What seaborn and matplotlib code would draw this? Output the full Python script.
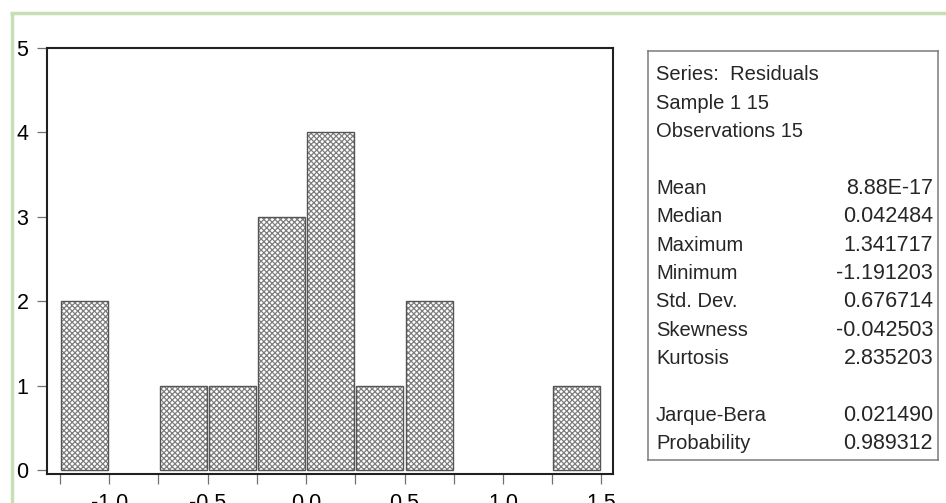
import numpy as np
import pandas as pd
import matplotlib
matplotlib.use("Agg")
import matplotlib.pyplot as plt
import seaborn as sns

# histogram of residuals (bin width 0.25)
bin_edges = [-1.25, -1.0, -0.75, -0.5, -0.25, 0.0, 0.25, 0.5, 0.75, 1.0, 1.25, 1.5]
bin_counts = [2, 0, 1, 1, 3, 4, 1, 2, 0, 0, 1]

x_ticks_major = [-1.0, -0.5, 0.0, 0.5, 1.0, 1.5]
x_tick_labels = ["-1.0", "-0.5", "0.0", "0.5", "1.0", "1.5"]
y_ticks = [0, 1, 2, 3, 4, 5]

stat_labels = ["Mean", "Median", "Maximum", "Minimum", "Std. Dev.",
               "Skewness", "Kurtosis", None, "Jarque-Bera", "Probability"]
stat_values = ["8.88E-17", "0.042484", "1.341717", "-1.191203", "0.676714",
               "-0.042503", "2.835203", None, "0.021490", "0.989312"]
header_lines = ["Series:  Residuals", "Sample 1 15", "Observations 15"]

sns.set_style("white")
plt.rcParams["font.family"] = ["Liberation Sans", "DejaVu Sans"]
plt.rcParams["hatch.linewidth"] = 0.9

W, H = 946, 503
fig = plt.figure(figsize=(W / 100, H / 100), dpi=100)
fig.patch.set_facecolor("white")


def px_rect(l, t, r, b):
    return [l / W, 1 - b / H, (r - l) / W, (b - t) / H]


ax = fig.add_axes(px_rect(46.5, 48, 612.5, 474))

centers = [(a + b) / 2 for a, b in zip(bin_edges[:-1], bin_edges[1:])]
df = pd.DataFrame({"x": centers, "n": bin_counts})

# hatched fill
sns.histplot(data=df, x="x", weights="n", bins=bin_edges, shrink=0.955,
             ax=ax, facecolor="white", edgecolor="#7d7d7d", linewidth=0,
             hatch="xxxxxx", alpha=1)
# outline
sns.histplot(data=df, x="x", weights="n", bins=bin_edges, shrink=0.955,
             ax=ax, fill=False, color="#555555", linewidth=1.0)
for p in ax.patches:
    if p.get_height() == 0:
        p.set_visible(False)

ax.set_xlim(-1.3185, 1.556)
ax.set_ylim(-0.047, 5)
ax.set_xticks(x_ticks_major)
ax.set_xticklabels(x_tick_labels)
ax.set_xticks(bin_edges, minor=True)
ax.set_yticks(y_ticks)
ax.set_xlabel("")
ax.set_ylabel("")
ax.tick_params(axis="both", which="both", direction="out", length=7,
               width=0.9, color="#707070", labelsize=15.5, labelcolor="black",
               left=True, bottom=True)
ax.tick_params(axis="y", pad=6)
ax.tick_params(axis="x", pad=7)
for s in ax.spines.values():
    s.set_color("#202020")
    s.set_linewidth(1.5)
ax.grid(False)

# stats box as its own axes
box_l, box_t, box_r, box_b = 648, 50.5, 937.5, 460
bx = fig.add_axes(px_rect(box_l, box_t, box_r, box_b))
bx.set_xticks([])
bx.set_yticks([])
bx.set_xlim(box_l, box_r)
bx.set_ylim(box_b, box_t)
for s in bx.spines.values():
    s.set_color("#7a7a7a")
    s.set_linewidth(1.1)

lines_left = header_lines + [None] + stat_labels
lines_right = [None] * (len(header_lines) + 1) + stat_values
for i, (lab, val) in enumerate(zip(lines_left, lines_right)):
    yb = 80.2 + 28.4 * i
    if lab:
        bx.text(656, yb, lab, fontsize=14.5, va="baseline", ha="left")
    if val:
        bx.text(933, yb, val, fontsize=15.5, va="baseline", ha="right")

# light green frame (left and top edges)
green = "#c5e0b4"
fig.add_artist(plt.Line2D([11.7 / W, 11.7 / W], [0, 1 - 13.3 / H],
                          transform=fig.transFigure, color=green, linewidth=2.5,
                          solid_capstyle="butt"))
fig.add_artist(plt.Line2D([10 / W, 1], [1 - 13.3 / H, 1 - 13.3 / H],
                          transform=fig.transFigure, color=green, linewidth=2.5,
                          solid_capstyle="butt"))

fig.savefig("out.png", dpi=100)
